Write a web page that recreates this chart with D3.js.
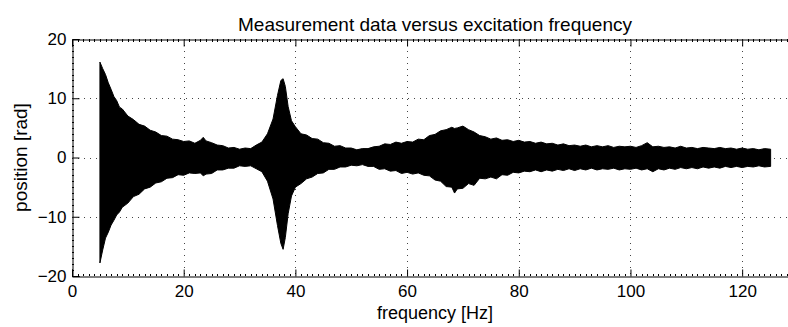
<!DOCTYPE html>
<html>
<head>
<meta charset="utf-8">
<script src="https://cdn.jsdelivr.net/npm/d3@7"></script>
<style>
  body { margin: 0; background: #fff; }
  svg { display: block; font-family: "Liberation Sans", Arial, sans-serif; }
</style>
</head>
<body>
<svg id="chart" width="788" height="327"></svg>
<script>
const freq = [
  5, 5.5, 6, 6.5, 7, 7.5, 8, 8.5, 9,
  10, 11, 12, 13, 14, 15, 16, 17, 18, 19, 20, 21, 22, 23, 23.5,
  24, 25, 26, 27, 28, 29, 30, 31, 32, 33, 34, 35, 36,
  36.8, 37.4, 37.8, 38.2, 38.7, 39.3,
  40, 41, 42, 43, 44, 45, 46, 47, 48, 49, 50, 51, 52, 53, 54, 55, 56, 57, 58, 59, 60, 61, 62, 63, 64, 65, 66, 67, 68, 68.5,
  69, 70, 71, 72, 73, 74, 75, 76, 77, 78, 79, 80, 81, 82, 83, 84, 85, 86, 87, 88, 89, 90, 91, 92, 93, 94, 95, 96,
  97, 98, 99, 100, 101, 102, 103, 104, 105, 106, 107, 108, 109, 110, 111, 112, 113, 114, 115, 116, 117, 118, 119, 120,
  121, 122, 123, 124, 125.1];
const upper = [
  16.1, 15.0, 14.0, 12.6, 11.5, 10.3, 9.6, 8.5, 8.2,
  7.0, 6.4, 5.6, 5.3, 4.6, 4.3, 3.7, 3.6, 3.1, 3.0, 2.7, 2.8, 2.4, 2.9, 3.4,
  2.8, 2.5, 2.1, 2.0, 1.6, 1.7, 1.4, 1.6, 1.5, 2.1, 2.6, 4.0, 6.5,
  10.5, 13.0, 13.3, 12.0, 8.6, 6.2,
  5.2, 4.0, 3.8, 3.2, 3.1, 2.5, 2.4, 1.9, 2.0, 1.6, 1.6, 1.3, 1.5, 1.5, 1.8, 1.9, 2.3, 2.2, 2.6, 2.4, 2.7, 2.6, 3.1, 3.0, 3.7, 3.9, 4.5, 4.7, 5.1, 4.9,
  5.0, 5.3, 4.7, 4.3, 3.7, 3.5, 3.1, 3.3, 2.9, 3.0, 2.7, 2.9, 2.6, 2.7, 2.4, 2.6, 2.3, 2.4, 2.1, 2.3, 2.0, 2.1, 1.9, 2.1, 1.8, 2.0, 1.8, 2.0,
  1.7, 1.9, 1.8, 1.9, 1.7, 2.0, 2.5, 1.8, 1.9, 1.7, 1.8, 1.6, 1.9, 1.6, 1.7, 1.5, 1.7, 1.6, 1.5, 1.7, 1.5, 1.6, 1.4, 1.6,
  1.4, 1.5, 1.3, 1.5, 1.4];
const lower = [
  -17.8, -15.6, -13.6, -12.6, -11.4, -10.6, -9.7, -9.2, -8.4,
  -7.7, -6.6, -6.2, -5.3, -5.0, -4.3, -4.1, -3.5, -3.4, -2.9, -3.0, -2.6, -2.7, -2.6, -3.1,
  -2.8, -2.7, -2.1, -2.1, -1.8, -1.8, -1.4, -1.5, -1.4, -1.9, -2.4, -4.0, -7.0,
  -11.5, -14.5, -15.5, -13.5, -9.5, -6.5,
  -5.0, -4.4, -3.6, -3.3, -2.7, -2.6, -2.0, -2.0, -1.6, -1.6, -1.3, -1.4, -1.2, -1.5, -1.5, -2.0, -1.9, -2.3, -2.2, -2.7, -2.5, -2.8, -2.6, -3.0, -3.1, -3.8, -4.0, -4.9, -5.0, -6.0,
  -5.3, -5.2, -4.4, -4.7, -3.5, -3.6, -3.3, -3.6, -2.9, -3.0, -2.5, -2.6, -2.3, -2.4, -2.1, -2.4, -2.1, -2.3, -2.0, -2.2, -1.9, -2.2, -1.9, -2.1, -1.8, -2.1, -1.9, -2.0,
  -1.8, -2.1, -1.9, -2.0, -1.8, -2.1, -1.9, -2.4, -1.9, -2.1, -1.8, -2.0, -1.7, -1.9, -1.7, -1.9, -1.6, -1.8, -1.6, -1.8, -1.5, -1.7, -1.5, -1.7,
  -1.5, -1.6, -1.4, -1.6, -1.5];

const xTicks = [0, 20, 40, 60, 80, 100, 120];
const yTicks = [-20, -10, 0, 10, 20];

const svg = d3.select('#chart');
const mLeft = 72, mTop = 39, mBottom = 276, mRight = 798;

const x = d3.scaleLinear().domain([0, 130]).range([mLeft, mRight]);
const y = d3.scaleLinear().domain([-20, 20]).range([mBottom, mTop]);

const fmt = d => d < 0 ? '\u2212' + Math.abs(d) : String(d);

// dotted grid
const grid = svg.append('g')
    .attr('stroke', '#444')
    .attr('stroke-width', 1)
    .attr('stroke-dasharray', '1,5');
grid.selectAll('.gx')
    .data(xTicks.filter(d => d > 0))
    .enter().append('line')
    .attr('x1', d => Math.round(x(d)) + 0.5).attr('x2', d => Math.round(x(d)) + 0.5)
    .attr('y1', mTop).attr('y2', mBottom);
grid.selectAll('.gy')
    .data(yTicks.filter(d => d > -20 && d < 20))
    .enter().append('line')
    .attr('y1', d => Math.round(y(d)) + 0.5).attr('y2', d => Math.round(y(d)) + 0.5)
    .attr('x1', mLeft).attr('x2', mRight);

// signal envelope
const data = freq.map((f, i) => ({ f: f, hi: upper[i], lo: lower[i] }));
const area = d3.area()
    .x(d => x(d.f))
    .y0(d => y(d.lo))
    .y1(d => y(d.hi));
svg.append('path')
    .datum(data)
    .attr('d', area)
    .attr('fill', '#000')
    .attr('stroke', '#000')
    .attr('stroke-width', 1);

// minor ticks
const xMinor = d3.range(0, 131, 1).filter(d => d % 20 !== 0);
const yMinor = d3.range(-20, 21, 1).filter(d => d % 10 !== 0);
const minor = svg.append('g').attr('stroke', '#000').attr('stroke-width', 1);
minor.selectAll('.mb').data(xMinor).enter().append('line')
    .attr('x1', d => Math.round(x(d)) + 0.5).attr('x2', d => Math.round(x(d)) + 0.5)
    .attr('y1', mBottom).attr('y2', mBottom - 2);
minor.selectAll('.mt').data(xMinor).enter().append('line')
    .attr('x1', d => Math.round(x(d)) + 0.5).attr('x2', d => Math.round(x(d)) + 0.5)
    .attr('y1', mTop).attr('y2', mTop + 3);
minor.selectAll('.ml').data(yMinor).enter().append('line')
    .attr('y1', d => Math.round(y(d)) + 0.5).attr('y2', d => Math.round(y(d)) + 0.5)
    .attr('x1', mLeft).attr('x2', mLeft + 2);

// axes (MATLAB style, ticks pointing in)
const xAxis = svg.append('g')
    .attr('transform', `translate(0,${mBottom + 0.5})`)
    .call(d3.axisBottom(x).tickValues(xTicks).tickSize(-7).tickPadding(8).tickFormat(fmt));
const xTop = svg.append('g')
    .attr('transform', `translate(0,${mTop + 0.5})`)
    .call(d3.axisTop(x).tickValues(xTicks).tickSize(-7).tickFormat(''));
const yAxis = svg.append('g')
    .attr('transform', `translate(${mLeft + 0.5},0)`)
    .call(d3.axisLeft(y).tickValues(yTicks).tickSize(-7).tickPadding(6).tickFormat(fmt));

[xAxis, xTop, yAxis].forEach(g => {
  g.select('.domain').attr('stroke', '#000').attr('stroke-width', 1);
  g.selectAll('.tick line').attr('stroke', '#000');
  g.selectAll('text').attr('fill', '#000').attr('font-size', 17)
      .attr('font-family', '"Liberation Sans", Arial, sans-serif');
});

// labels
svg.append('text')
    .attr('x', (mLeft + mRight) / 2).attr('y', 31)
    .attr('text-anchor', 'middle')
    .attr('font-size', 19)
    .text('Measurement data versus excitation frequency');
svg.append('text')
    .attr('x', (mLeft + mRight) / 2).attr('y', 319)
    .attr('text-anchor', 'middle')
    .attr('font-size', 18)
    .text('frequency [Hz]');
svg.append('text')
    .attr('transform', `translate(27,${(mTop + mBottom) / 2}) rotate(-90)`)
    .attr('text-anchor', 'middle')
    .attr('font-size', 19)
    .text('position [rad]');
</script>
</body>
</html>
